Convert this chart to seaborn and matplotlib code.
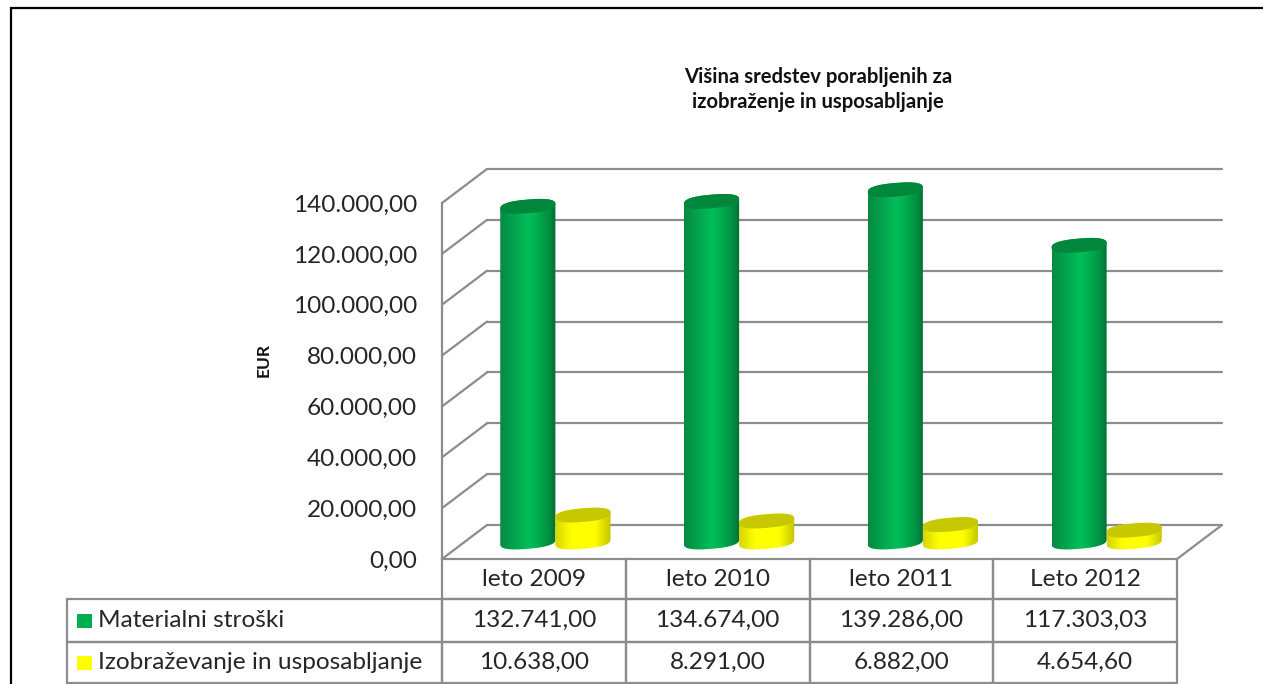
import numpy as np
import pandas as pd
import matplotlib
matplotlib.use("Agg")
import matplotlib.pyplot as plt
from matplotlib.colors import LinearSegmentedColormap
from matplotlib.lines import Line2D
from matplotlib.patches import PathPatch, Rectangle
from matplotlib.path import Path
from matplotlib.ticker import FuncFormatter, MultipleLocator
import seaborn as sns

# ---------- data ----------
categories = ["leto 2009", "leto 2010", "leto 2011", "Leto 2012"]
series_names = ["Materialni stroški", "Izobraževanje in usposabljanje"]
materialni = [132741.00, 134674.00, 139286.00, 117303.03]
izobrazevanje = [10638.00, 8291.00, 6882.00, 4654.60]
title_text = "Višina sredstev porabljenih za\nizobraženje in usposabljanje"
y_label = "EUR"

# ---------- style ----------
sns.set_theme(style="white")
plt.rcParams["font.family"] = ["Lato", "DejaVu Sans"]
W, H = 1263, 684
GRID = "#8c8c8c"
TXT = "#262626"
FS = 17.6
fig = plt.figure(figsize=(W / 100, H / 100), dpi=100, facecolor="white")


def rect(x0, y_top, x1, y_bot):
    return [x0 / W, 1 - y_bot / H, (x1 - x0) / W, (y_bot - y_top) / H]


def fmt(v, _=None):
    return f"{v:,.2f}".replace(",", "#").replace(".", ",").replace("#", ".")


YMAX = 140000
# back wall
ax_back = fig.add_axes(rect(487, 169, 1222, 525), zorder=0)
ax_back.set_ylim(0, YMAX)
ax_back.set_xlim(0, 1)
ax_back.yaxis.set_major_locator(MultipleLocator(20000))
ax_back.grid(axis="y", color=GRID, lw=1.6)
for gl in ax_back.yaxis.get_gridlines():
    gl.set_clip_on(False)
ax_back.tick_params(left=False, bottom=False, labelleft=False, labelbottom=False)
sns.despine(ax=ax_back, left=True, bottom=True)

# front value axis + table
ax_front = fig.add_axes(rect(442, 203, 1177, 559), zorder=1)
ax_front.patch.set_alpha(0)
ax_front.set_ylim(0, YMAX)
ax_front.set_xlim(0, 1)
ax_front.set_xticks([])
ax_front.yaxis.set_major_locator(MultipleLocator(20000))
ax_front.yaxis.set_major_formatter(FuncFormatter(fmt))
ax_front.tick_params(axis="y", length=0, pad=18, labelsize=FS, labelcolor=TXT)
sns.despine(ax=ax_front, bottom=True)
ax_front.spines["left"].set_color(GRID)
ax_front.spines["left"].set_linewidth(1.6)

# depth diagonals between walls
to_px = lambda ax, x, y: ax.transData.transform((x, y))
for v in np.arange(0, YMAX + 1, 20000):
    a, b = to_px(ax_front, 0, v), to_px(ax_back, 0, v)
    fig.add_artist(Line2D([a[0], b[0]], [a[1], b[1]], transform=None, color=GRID, lw=1.6, zorder=1))
a, b = to_px(ax_front, 1, 0), to_px(ax_back, 1, 0)
fig.add_artist(Line2D([a[0], b[0]], [a[1], b[1]], transform=None, color=GRID, lw=1.6, zorder=1))

# data table
rows = [[""] + categories,
        [series_names[0]] + [fmt(v) for v in materialni],
        [series_names[1]] + [fmt(v) for v in izobrazevanje]]
col_px = [375] + [735 / len(categories)] * len(categories)
tbl = ax_front.table(cellText=rows, colWidths=[c / 735 for c in col_px], cellLoc="center",
                     bbox=[-375 / 735, -124 / 356, 1110 / 735, 124 / 356])
tbl.auto_set_font_size(False)
row_h = [40, 43, 41]
for (r, c), cell in tbl.get_celld().items():
    cell.set_edgecolor(GRID)
    cell.set_linewidth(1.6)
    cell.set_height(row_h[r] / 124)
    cell.set_facecolor("none")
    cell.get_text().set_fontsize(FS)
    cell.get_text().set_color(TXT)
    if c == 0:
        cell.set_text_props(ha="left")
        cell._loc = "left"
        cell.PAD = 31 / 375
tbl[(0, 0)].visible_edges = ""

# cylinders
PX_TOP, PX_BASE = 188, 542
ax = fig.add_axes(rect(463.5, PX_TOP, 1198.5, PX_BASE), zorder=3)
ax.patch.set_alpha(0)
df = pd.DataFrame({
    "year": categories * 2,
    "serie": [series_names[0]] * 4 + [series_names[1]] * 4,
    "value": materialni + izobrazevanje,
})
palette = {series_names[0]: "#00B050", series_names[1]: "#FFFF00"}
sns.barplot(data=df, x="year", y="value", hue="serie", order=categories, hue_order=series_names,
            palette=palette, width=0.6, gap=0, dodge=True, legend=False, ax=ax, saturation=1)
ax.set_xlim(-0.5, 3.5)
ax.set_ylim(0, YMAX)
ax.axis("off")

KY = YMAX / (PX_BASE - PX_TOP)
BH, TILT = 6.8, 2.3
cmaps = [
    LinearSegmentedColormap.from_list("g", [(0, "#078a42"), (0.5, "#00BE58"), (0.62, "#00B552"), (0.9, "#008A3F"), (1, "#006D30")]),
    LinearSegmentedColormap.from_list("y", [(0, "#d5d500"), (0.28, "#FFFF00"), (0.72, "#FFFF00"), (1, "#c4c400")]),
]
cap_cols = ["#00873C", "#C8C800"]
t_up = np.linspace(0, np.pi, 60)
t_low = np.linspace(np.pi, 2 * np.pi, 60)
t_all = np.linspace(0, 2 * np.pi, 120)


def edge(cx, w, v, t):
    c, sn = np.cos(t), np.sin(t)
    sx = np.sign(c) * np.abs(c) ** 0.8
    sy = np.sign(sn) * np.abs(sn) ** 0.8
    return np.column_stack([cx + w / 2 * sx, v + (BH * sy + TILT * sx) * KY])


for i in range(len(categories)):
    for s, cont in enumerate(ax.containers):
        bar = cont[i]
        bar.set_visible(False)
        z = 3 + i + s * 0.5
        x0, w, top = bar.get_x(), bar.get_width(), bar.get_height()
        cx = x0 + w / 2
        outline = np.vstack([edge(cx, w, top, t_up), edge(cx, w, 0, t_low)])
        clip = PathPatch(Path(np.vstack([outline, outline[0]]), closed=True), transform=ax.transData)
        im = ax.imshow(np.linspace(0, 1, 128)[None, :], cmap=cmaps[s], aspect="auto",
                       extent=[x0, x0 + w, -10 * KY, top + 10 * KY], zorder=z, interpolation="bilinear")
        im.set_clip_path(clip)
        im.set_clip_box(fig.bbox)
        cap = edge(cx, w, top, t_all)
        ax.add_patch(PathPatch(Path(cap, closed=True), facecolor=cap_cols[s], edgecolor="none",
                               zorder=z + 0.1, clip_on=False))
ax.set_xlim(-0.5, 3.5)
ax.set_ylim(0, YMAX)

# legend keys in the table
for (ytop, col) in zip([613.5, 655.5], ["#00B050", "#FFFF00"]):
    fig.add_artist(Rectangle((77 / W, 1 - (ytop + 14.5) / H), 14.5 / W, 14.5 / H,
                             transform=fig.transFigure, facecolor=col, edgecolor="none", zorder=5))

# texts
fig.text(818 / W, 1 - 89.5 / H, title_text, ha="center", va="center", fontsize=14.6, fontweight="bold",
         color="#111111", linespacing=1.3)
fig.text(264 / W, 1 - 360 / H, y_label, rotation=90, ha="center", va="center", fontsize=12.5,
         fontweight="bold", color="#111111")

# outer frame
fig.add_artist(Line2D([11 / W, 11 / W, 1], [0, 1 - 8 / H, 1 - 8 / H], transform=fig.transFigure,
                      color="black", lw=1.6, solid_joinstyle="miter", zorder=6))

fig.savefig("out.png", dpi=100)
